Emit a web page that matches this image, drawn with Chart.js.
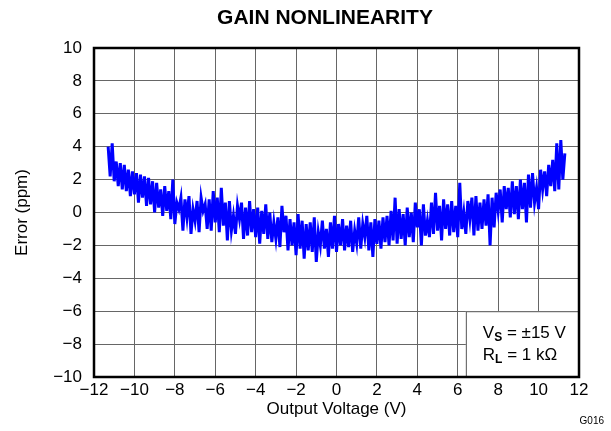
<!DOCTYPE html>
<html>
<head>
<meta charset="utf-8">
<script src="https://cdn.jsdelivr.net/npm/chart.js@4/dist/chart.umd.min.js"></script>
<style>
  html, body { margin: 0; padding: 0; background: #fff; }
  #wrap { width: 611px; height: 431px; position: relative; }
</style>
</head>
<body>
<div id="wrap"><canvas id="chart"></canvas></div>
<script>
// output voltage (V)
const voltage = [
  -11.3, -11.2, -11.1, -11.0, -10.9, -10.8, -10.7, -10.6, -10.5, -10.4,
  -10.3, -10.2, -10.1, -10.0, -9.9, -9.8, -9.7, -9.6, -9.5, -9.4,
  -9.3, -9.2, -9.1, -9.0, -8.9, -8.8, -8.7, -8.6, -8.5, -8.4,
  -8.3, -8.2, -8.1, -8.0, -7.9, -7.8, -7.7, -7.6, -7.5, -7.4,
  -7.3, -7.2, -7.1, -7.0, -6.9, -6.8, -6.7, -6.6, -6.5, -6.4,
  -6.3, -6.2, -6.1, -6.0, -5.9, -5.8, -5.7, -5.6, -5.5, -5.4,
  -5.3, -5.2, -5.1, -5.0, -4.9, -4.8, -4.7, -4.6, -4.5, -4.4,
  -4.3, -4.2, -4.1, -4.0, -3.9, -3.8, -3.7, -3.6, -3.5, -3.4,
  -3.3, -3.2, -3.1, -3.0, -2.9, -2.8, -2.7, -2.6, -2.5, -2.4,
  -2.3, -2.2, -2.1, -2.0, -1.9, -1.8, -1.7, -1.6, -1.5, -1.4,
  -1.3, -1.2, -1.1, -1.0, -0.9, -0.8, -0.7, -0.6, -0.5, -0.4,
  -0.3, -0.2, -0.1, 0.0, 0.1, 0.2, 0.3, 0.4, 0.5, 0.6,
  0.7, 0.8, 0.9, 1.0, 1.1, 1.2, 1.3, 1.4, 1.5, 1.6,
  1.7, 1.8, 1.9, 2.0, 2.1, 2.2, 2.3, 2.4, 2.5, 2.6,
  2.7, 2.8, 2.9, 3.0, 3.1, 3.2, 3.3, 3.4, 3.5, 3.6,
  3.7, 3.8, 3.9, 4.0, 4.1, 4.2, 4.3, 4.4, 4.5, 4.6,
  4.7, 4.8, 4.9, 5.0, 5.1, 5.2, 5.3, 5.4, 5.5, 5.6,
  5.7, 5.8, 5.9, 6.0, 6.1, 6.2, 6.3, 6.4, 6.5, 6.6,
  6.7, 6.8, 6.9, 7.0, 7.1, 7.2, 7.3, 7.4, 7.5, 7.6,
  7.7, 7.8, 7.9, 8.0, 8.1, 8.2, 8.3, 8.4, 8.5, 8.6,
  8.7, 8.8, 8.9, 9.0, 9.1, 9.2, 9.3, 9.4, 9.5, 9.6,
  9.7, 9.8, 9.9, 10.0, 10.1, 10.2, 10.3, 10.4, 10.5, 10.6,
  10.7, 10.8, 10.9, 11.0, 11.1, 11.2, 11.3
];

// error (ppm)
const errorPpm = [
  4.0, 2.2, 4.2, 1.9, 3.1, 1.6, 3.0, 1.4, 2.9, 1.3,
  2.6, 1.0, 2.5, 1.1, 2.4, 0.6, 2.3, 0.9, 2.2, 0.4,
  2.1, 0.5, 1.9, 0.0, 1.8, 0.3, 1.4, -0.2, 1.6, 0.1,
  1.3, -0.4, 2.0, -0.7, 0.6, 0.2, 0.9, -1.1, 0.8, -0.3,
  1.0, -1.3, 0.2, -0.5, 0.7, -1.2, 0.9, 0.1, 0.5, -1.0,
  0.8, -1.1, 1.3, -0.6, 0.9, -1.2, 1.5, -0.8, 0.6, -1.7,
  0.7, -1.1, -0.2, -1.3, 0.4, -0.4, 0.6, -1.6, 0.3, -1.4,
  0.7, -1.2, 0.2, -1.5, 0.3, -1.9, 0.1, -1.3, 0.5, -1.6,
  0.0, -1.8, -0.6, -1.6, -0.3, -2.1, 0.4, -1.2, -0.2, -2.3,
  -0.4, -2.0, -0.6, -2.6, -0.1, -2.2, -0.5, -2.8, -0.7, -2.3,
  -0.6, -2.4, -0.3, -3.0, -1.2, -2.0, -0.5, -2.2, -1.0, -2.7,
  -0.6, -2.2, -0.2, -2.4, -0.7, -2.0, -0.4, -2.3, -0.8, -2.1,
  -0.5, -2.4, -1.1, -1.9, -0.3, -2.2, -0.7, -1.5, -0.2, -2.3,
  -0.6, -2.7, -0.4, -1.9, -0.5, -2.2, -0.3, -1.8, -0.2, -2.0,
  0.1, -1.7, 0.9, -1.9, 0.2, -1.6, -0.1, -2.0, 0.3, -1.5,
  0.0, -1.8, 0.6, -0.9, 0.2, -2.0, 0.5, -1.4, -0.5, -1.5,
  0.6, -1.3, 1.2, -1.1, 0.4, -1.7, 0.8, -1.0, 0.5, -1.4,
  0.7, -1.2, 0.4, -1.5, 1.8, -1.0, 0.0, -1.3, 0.7, -0.4,
  0.9, -1.4, 1.0, -1.1, 0.6, -1.0, 0.8, -0.8, 1.1, -2.0,
  0.9, -0.9, 1.2, 0.1, 1.4, -0.6, 1.6, 0.2, 1.5, -0.3,
  1.9, -0.1, 1.6, -0.4, 2.0, 0.2, 1.8, -0.6, 2.3, 0.3,
  2.4, 0.6, 1.5, 0.2, 2.6, 1.4, 2.5, 1.0, 2.9, 1.6,
  3.2, 1.3, 4.2, 1.4, 4.4, 2.0, 3.6
];

const xTickValues = [-12, -10, -8, -6, -4, -2, 0, 2, 4, 6, 8, 10, 12];
const yTickValues = [-10, -8, -6, -4, -2, 0, 2, 4, 6, 8, 10];

const fontFamily = '"Liberation Sans", Arial, Helvetica, sans-serif';

function minusSign(v) {
  return String(v).replace('-', '\u2212');
}

// title, white box with the test conditions, plot frame and figure id
const extras = {
  id: 'extras',
  afterDraw(chart) {
    const c = chart.ctx, a = chart.chartArea;
    const xs = chart.scales.x, ys = chart.scales.y;
    c.save();

    c.fillStyle = '#000';
    c.textAlign = 'center';
    c.textBaseline = 'middle';
    c.font = 'bold 21px ' + fontFamily;
    c.fillText('GAIN NONLINEARITY', a.left + 231, 18);

    // condition box
    const bx = xs.getPixelForValue(6.4), by = ys.getPixelForValue(-6);
    c.fillStyle = '#fff';
    c.fillRect(bx, by, a.right - bx, a.bottom - by);
    c.strokeStyle = '#555';
    c.lineWidth = 1;
    c.strokeRect(bx + 0.5, by + 0.5, a.right - bx, a.bottom - by);

    c.fillStyle = '#000';
    c.textAlign = 'left';
    c.textBaseline = 'alphabetic';
    let tx = bx + 17, ty = by + 27;
    c.font = '17px ' + fontFamily;
    c.fillText('V', tx, ty);
    let w = c.measureText('V').width;
    c.font = 'bold 12px ' + fontFamily;
    c.fillText('S', tx + w, ty + 3);
    let w2 = c.measureText('S').width;
    c.font = '17px ' + fontFamily;
    c.fillText(' = \u00b115 V', tx + w + w2, ty);

    ty += 22;
    c.fillText('R', tx, ty);
    w = c.measureText('R').width;
    c.font = 'bold 12px ' + fontFamily;
    c.fillText('L', tx + w, ty + 3);
    w2 = c.measureText('L').width;
    c.font = '17px ' + fontFamily;
    c.fillText(' = 1 k\u03a9', tx + w + w2, ty);

    // plot frame
    c.strokeStyle = '#000';
    c.lineWidth = 2.5;
    c.strokeRect(a.left, a.top, a.right - a.left, a.bottom - a.top);

    c.font = '10px ' + fontFamily;
    c.textAlign = 'right';
    c.fillText('G016', 604, 424);
    c.restore();
  }
};

const points = voltage.map((v, i) => ({ x: v, y: errorPpm[i] }));

new Chart(document.getElementById('chart'), {
  type: 'line',
  data: {
    datasets: [{
      label: 'Error',
      data: points,
      borderColor: '#0000ff',
      borderWidth: 3,
      pointRadius: 0,
      tension: 0,
      fill: false
    }]
  },
  options: {
    responsive: true,
    maintainAspectRatio: false,
    animation: false,
    layout: { padding: { top: 48, left: 0, right: 32, bottom: 0 } },
    scales: {
      x: {
        type: 'linear',
        min: -12,
        max: 12,
        afterBuildTicks: (s) => { s.ticks = xTickValues.map(v => ({ value: v })); },
        afterFit: (s) => { s.height = 54; s.paddingLeft = 0; s.paddingRight = 0; },
        grid: { color: '#666', lineWidth: 1, drawTicks: false },
        border: { display: false },
        ticks: {
          color: '#000',
          padding: 3,
          maxRotation: 0,
          font: { family: fontFamily, size: 17 },
          callback: (v) => minusSign(v)
        },
        title: {
          display: true,
          text: 'Output Voltage (V)',
          color: '#000',
          font: { family: fontFamily, size: 17 },
          padding: { top: 0, bottom: 11 }
        }
      },
      y: {
        min: -10,
        max: 10,
        afterBuildTicks: (s) => { s.ticks = yTickValues.map(v => ({ value: v })); },
        afterFit: (s) => { s.width = 94; s.paddingTop = 0; s.paddingBottom = 0; },
        grid: { color: '#666', lineWidth: 1, drawTicks: false },
        border: { display: false },
        ticks: {
          color: '#000',
          padding: 12,
          font: { family: fontFamily, size: 17 },
          callback: (v) => minusSign(v)
        },
        title: {
          display: true,
          text: 'Error (ppm)',
          color: '#000',
          font: { family: fontFamily, size: 17 },
          padding: { top: 12, bottom: 0 }
        }
      }
    },
    plugins: {
      legend: { display: false },
      tooltip: { enabled: false },
      title: { display: false }
    }
  },
  plugins: [extras]
});
</script>
</body>
</html>
